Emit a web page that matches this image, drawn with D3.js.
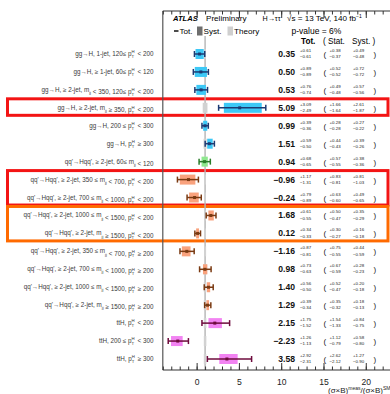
<!DOCTYPE html>
<html><head><meta charset="utf-8">
<script src="https://cdn.jsdelivr.net/npm/d3@7"></script>
<style>body{margin:0;background:#fff}svg{display:block;font-family:"Liberation Sans",Arial,sans-serif}</style>
</head><body><svg id="c" width="390" height="394"></svg>
<script>
const labels = [
 "gg→H, 1-jet, 120≤ p_T^H < 200",
 "gg→H, ≥ 1-jet, 60≤ p_T^H < 120",
 "gg→H, ≥ 2-jet, m_jj < 350, 120≤ p_T^H < 200",
 "gg→H, ≥ 2-jet, m_jj ≥ 350, p_T^H < 200",
 "gg→H, 200 ≤ p_T^H < 300",
 "gg→H, p_T^H ≥ 300",
 "qq'→Hqq', ≥ 2-jet, 60≤ m_jj < 120",
 "qq'→Hqq', ≥ 2-jet, 350 ≤ m_jj < 700, p_T^H < 200",
 "qq'→Hqq', ≥ 2-jet, 700 ≤ m_jj < 1000, p_T^H < 200",
 "qq'→Hqq', ≥ 2-jet, 1000 ≤ m_jj < 1500, p_T^H < 200",
 "qq'→Hqq', ≥ 2-jet, m_jj ≥ 1500, p_T^H < 200",
 "qq'→Hqq', ≥ 2-jet, 350 ≤ m_jj < 700, p_T^H ≥ 200",
 "qq'→Hqq', ≥ 2-jet, 700 ≤ m_jj < 1000, p_T^H ≥ 200",
 "qq'→Hqq', ≥ 2-jet, 1000 ≤ m_jj < 1500, p_T^H ≥ 200",
 "qq'→Hqq', ≥ 2-jet, m_jj ≥ 1500, p_T^H ≥ 200",
 "ttH, p_T^H < 200",
 "ttH, 200 ≤ p_T^H < 300",
 "ttH, p_T^H ≥ 300"
];
const groups = ["ggH","ggH","ggH","ggH","ggH","ggH","vbfLow","qqH","qqH","qqH","qqH","qqH","qqH","qqH","qqH","ttH","ttH","ttH"];
const values  = [0.35,0.50,0.53,5.09,0.99,1.51,0.94,-0.96,-0.24,1.68,0.12,-1.16,0.98,1.40,1.29,2.15,-2.23,3.58];
const totUp   = [0.61,0.89,0.76,3.09,0.39,0.59,0.68,1.17,0.79,0.61,0.34,0.87,0.73,0.56,0.39,1.75,1.26,2.92];
const totDn   = [0.61,0.89,0.74,2.49,0.36,0.50,0.65,1.31,0.89,0.55,0.33,0.81,0.63,0.50,0.34,1.52,1.13,2.31];
const statUp  = [0.38,0.52,0.49,1.66,0.28,0.44,0.57,0.83,0.63,0.50,0.30,0.75,0.67,0.52,0.35,1.54,1.12,2.62];
const statDn  = [0.37,0.52,0.48,1.64,0.28,0.43,0.55,0.81,0.60,0.47,0.27,0.55,0.59,0.47,0.32,1.33,0.79,2.12];
const systUp  = [0.49,0.72,0.57,2.61,0.27,0.39,0.38,0.81,0.49,0.35,0.16,0.44,0.28,0.20,0.18,0.84,0.58,1.27];
const systDn  = [0.48,0.72,0.56,1.87,0.22,0.26,0.36,1.03,0.65,0.29,0.18,0.59,0.23,0.18,0.13,0.75,0.80,0.90];
const theory  = [0.10,0.12,0.12,0.28,0.12,0.18,0.10,0.10,0.10,0.10,0.10,0.12,0.25,0.15,0.15,0.15,0.15,0.15];
const xTicks = [0,5,10,15,20];
const highlights = [{from:3,to:3,color:"#f31414"},{from:7,to:8,color:"#f31414"},{from:9,to:10,color:"#ff6a00"}];

const colors = {
 ggH:{box:"#3cc8f6",bar:"#1b3a73"},
 vbfLow:{box:"#8fe88f",bar:"#2a7d2a"},
 qqH:{box:"#f9a27d",bar:"#7a3a12"},
 ttH:{box:"#f283f2",bar:"#6e0b3d"}
};

const svg = d3.select("#c");
const x = d3.scaleLinear().domain([-4,24]).range([162.8,399.6]);
const y = d3.scalePoint().domain(d3.range(labels.length)).range([54,359]);
const frameTop = 11, axisY = 370, frameL = x(-4);

// highlight boxes
highlights.forEach(h=>{
  const top = y(h.from)-9, bot = y(h.to)+7.5;
  svg.append("rect").attr("x",7.5).attr("y",top).attr("width",380.5).attr("height",bot-top)
    .attr("fill","none").attr("stroke",h.color).attr("stroke-width",3);
});

// SM line
svg.append("line").attr("x1",x(1)).attr("x2",x(1)).attr("y1",36).attr("y2",axisY)
  .attr("stroke","#b4b4b4").attr("stroke-width",1.4);

const rows = svg.append("g").selectAll("g").data(d3.range(labels.length)).join("g");
// theory band
rows.append("rect").attr("x",i=>x(1-theory[i])).attr("width",i=>x(1+theory[i])-x(1-theory[i]))
  .attr("y",i=>y(i)-5).attr("height",10).attr("fill","#d2d2d2");
// syst box
rows.append("rect").attr("x",i=>x(values[i]-systDn[i])).attr("width",i=>x(values[i]+systUp[i])-x(values[i]-systDn[i]))
  .attr("y",i=>y(i)-5).attr("height",10).attr("fill",i=>colors[groups[i]].box);
// total error bar
rows.append("line").attr("x1",i=>x(values[i]-totDn[i])).attr("x2",i=>x(values[i]+totUp[i]))
  .attr("y1",i=>y(i)).attr("y2",i=>y(i)).attr("stroke",i=>colors[groups[i]].bar).attr("stroke-width",1.5);
[[values,totDn,-1],[values,totUp,1]].forEach(([v,e,s])=>{
  rows.append("line").attr("x1",i=>x(v[i]+s*e[i])).attr("x2",i=>x(v[i]+s*e[i]))
    .attr("y1",i=>y(i)-3).attr("y2",i=>y(i)+3).attr("stroke",i=>colors[groups[i]].bar).attr("stroke-width",1.5);
});
rows.append("rect").attr("x",i=>x(values[i])-1.5).attr("y",i=>y(i)-1.5).attr("width",3).attr("height",3)
  .attr("fill",i=>colors[groups[i]].bar);

// labels with sub/superscripts
function richLabel(g, str, xPos, yPos, fs){
  const t = g.append("text").attr("x",xPos).attr("y",yPos).attr("text-anchor","end")
    .attr("font-size",fs).attr("fill","#3a3a3a");
  const parts = str.split(/(p_T\^H|m_jj)/);
  parts.forEach(p=>{
    if(p==="p_T^H"){
      t.append("tspan").text("p");
      t.append("tspan").attr("font-size",fs*0.68).attr("dy",1.8).text("T");
      t.append("tspan").attr("font-size",fs*0.68).attr("dx",-fs*0.42).attr("dy",-4.6).text("H");
      t.append("tspan").attr("dy",2.8).text("\u2009");
    } else if(p==="m_jj"){
      t.append("tspan").text("m");
      t.append("tspan").attr("font-size",fs*0.68).attr("dy",2.2).text("jj");
      t.append("tspan").attr("dy",-2.2).text("");
    } else if(p.length){
      t.append("tspan").text(p);
    }
  });
}
labels.forEach((l,i)=>richLabel(svg,l,153.5,y(i)+2,6.3));

// numbers
const fmt = d3.format(".2f");
const minus = s=>s.replace("-","−");
rows.append("text").attr("x",295).attr("y",i=>y(i)+3).attr("text-anchor","end")
  .attr("font-size",8.6).attr("font-weight","bold").attr("fill","#111").text(i=>minus(fmt(values[i])));
function smallPair(xp, up, dn){
  rows.append("text").attr("x",xp).attr("y",i=>y(i)-2).attr("font-size",4.4).attr("fill","#222").text(i=>"+"+fmt(up[i]));
  rows.append("text").attr("x",xp).attr("y",i=>y(i)+4.2).attr("font-size",4.4).attr("fill","#222").text(i=>"−"+fmt(dn[i]));
}
smallPair(300,totUp,totDn);
smallPair(329.5,statUp,statDn);
smallPair(353,systUp,systDn);
rows.append("text").attr("x",323.5).attr("y",i=>y(i)+3).attr("font-size",8).attr("fill","#222").text("(");
rows.append("text").attr("x",373.5).attr("y",i=>y(i)+3).attr("font-size",8).attr("fill","#222").text(")");

// headers
svg.append("text").attr("x",301).attr("y",43.5).attr("font-size",8.2).attr("font-weight","bold").text("Tot.");
svg.append("text").attr("x",323).attr("y",43.5).attr("font-size",8.2).text("( Stat.");
svg.append("text").attr("x",352).attr("y",43.5).attr("font-size",8.2).text("Syst. )");
svg.append("text").attr("x",291.5).attr("y",34).attr("font-size",8.5).text("p-value = 6%");

// top header
svg.append("text").attr("x",173).attr("y",21).attr("font-size",7.6).attr("font-weight","bold").attr("font-style","italic").text("ATLAS");
svg.append("text").attr("x",206).attr("y",21).attr("font-size",8.1).text("Preliminary");
svg.append("text").attr("x",262.5).attr("y",21).attr("font-size",8.1)
  .attr("textLength",18).attr("lengthAdjust","spacingAndGlyphs").text("H→ττ");
const hs = svg.append("text").attr("x",287).attr("y",21).attr("font-size",8.1);
hs.append("tspan").text("√s = 13 TeV, 140 fb");
hs.append("tspan").attr("font-size",5).attr("dy",-3.5).text("−1");

// legend
svg.append("line").attr("x1",174).attr("x2",178.5).attr("y1",31).attr("y2",31).attr("stroke","#111").attr("stroke-width",1.5);
svg.append("text").attr("x",179.5).attr("y",34).attr("font-size",8.1).text("Tot.");
svg.append("rect").attr("x",197).attr("y",26.5).attr("width",5.5).attr("height",9).attr("fill","#6e6e6e");
svg.append("text").attr("x",203.5).attr("y",34).attr("font-size",8.1).text("Syst.");
svg.append("rect").attr("x",227.5).attr("y",26.5).attr("width",5.5).attr("height",9).attr("fill","#cfcfcf");
svg.append("text").attr("x",234).attr("y",34).attr("font-size",8.1).text("Theory");

// frame and axes
const minor = d3.range(-4,25,1);
svg.append("line").attr("x1",frameL).attr("x2",400).attr("y1",frameTop).attr("y2",frameTop).attr("stroke","#333");
svg.append("line").attr("x1",frameL).attr("x2",frameL).attr("y1",frameTop).attr("y2",axisY).attr("stroke","#555").attr("stroke-width",1.2);
const gx = svg.append("g").attr("transform",`translate(0,${axisY})`)
  .call(d3.axisBottom(x).tickValues(minor).tickSize(-3.5).tickFormat(""));
gx.select(".domain").remove();
const gx2 = svg.append("g").attr("transform",`translate(0,${axisY})`)
  .call(d3.axisBottom(x).tickValues(xTicks).tickSize(-7).tickPadding(8.5).tickFormat(d3.format("d")));
gx2.select(".domain").remove();
gx2.selectAll("text").attr("font-size",8.6).attr("fill","#222").attr("font-family","Liberation Sans, Arial, sans-serif");
svg.append("line").attr("x1",frameL).attr("x2",400).attr("y1",axisY).attr("y2",axisY).attr("stroke","#333");
// top ticks
const gt = svg.append("g").attr("transform",`translate(0,${frameTop})`).call(d3.axisTop(x).tickValues(minor).tickSize(-3.5).tickFormat(""));
gt.select(".domain").remove();
const gt2 = svg.append("g").attr("transform",`translate(0,${frameTop})`).call(d3.axisTop(x).tickValues(xTicks).tickSize(-7).tickFormat(""));
gt2.select(".domain").remove();
svg.selectAll(".tick line").attr("stroke","#333");

// x label
const xl = svg.append("text").attr("x",328).attr("y",393).attr("font-size",8).attr("fill","#222");
xl.append("tspan").text("(σ×B)");
xl.append("tspan").attr("font-size",5).attr("dy",-3.3).text("meas");
xl.append("tspan").attr("dy",3.3).text("/(σ×B)");
xl.append("tspan").attr("font-size",5).attr("dy",-3.3).text("SM");
</script></body></html>
